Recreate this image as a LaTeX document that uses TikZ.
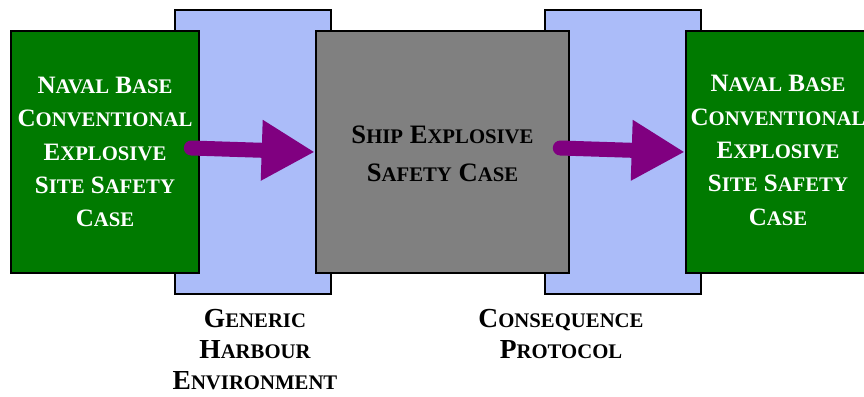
\documentclass[tikz,border=0pt]{standalone}
\usepackage{fontspec}
\setmainfont{Liberation Serif}
\usepackage{relsize}
\usetikzlibrary{arrows.meta,calc}
\definecolor{boxgreen}{RGB}{0,122,0}
\definecolor{boxblue}{RGB}{171,188,249}
\definecolor{boxgrey}{RGB}{128,128,128}
\definecolor{arrowpurple}{RGB}{128,0,128}
\newcommand\smc[1]{\textscale{0.8}{#1}}
\tikzset{
  x=1pt, y=-1pt,
  layer/.style={draw=black, line width=2.6pt, fill=boxblue, minimum width=156pt, minimum height=284pt, inner sep=0pt},
  sitebox/.style={draw=black, line width=2.6pt, fill=boxgreen, text=white, minimum height=242pt, inner sep=0pt, align=center,
     font=\bfseries\fontsize{25}{33.3}\selectfont},
  shipbox/.style={draw=black, line width=2.6pt, fill=boxgrey, minimum width=253pt, minimum height=242pt, inner sep=0pt},
  label/.style={align=center, inner sep=0pt, anchor=north, font=\bfseries\fontsize{27.5}{31}\selectfont},
  flow/.style={draw=arrowpurple, line width=15pt, line cap=round, -{Triangle[length=53pt,width=57pt]}},
}
\begin{document}
\begin{tikzpicture}
\useasboundingbox (0,0) rectangle (864,396);
\node[layer] (gh) at (253,152) {};
\node[layer] (cp) at (623,152) {};
\node[sitebox, minimum width=188pt] (lsite) at (105,152) {%
N\smc{AVAL} B\smc{ASE}\\C\smc{ONVENTIONAL}\\E\smc{XPLOSIVE}\\S\smc{ITE} S\smc{AFETY}\\C\smc{ASE}};
\node[shipbox] (ship) at (442.5,152) {};
\node[align=center, inner sep=0pt, font=\bfseries\fontsize{26.6}{38}\selectfont] (shiptext) at (442.5,154) {S\smc{HIP} E\smc{XPLOSIVE}\\S\smc{AFETY} C\smc{ASE}};
\node[sitebox, minimum width=190pt] (rsite) at (781,152) {};
\node[text=white, align=center, inner sep=0pt, font=\bfseries\fontsize{25}{33.3}\selectfont] (rtext) at (778,150.5) {%
N\smc{AVAL} B\smc{ASE}\\C\smc{ONVENTIONAL}\\E\smc{XPLOSIVE}\\S\smc{ITE} S\smc{AFETY}\\C\smc{ASE}};
\node[label] (ghlabel) at (255,309) {G\smc{ENERIC}\\H\smc{ARBOUR}\\E\smc{NVIRONMENT}};
\node[label] (cplabel) at (561,309) {C\smc{ONSEQUENCE}\\P\smc{ROTOCOL}};
\draw[flow] ($(lsite.east)+(-9,-4)$) -- (ship.west);
\draw[flow] ($(ship.east)+(-10,-4)$) -- (rsite.west);
\end{tikzpicture}
\end{document}
